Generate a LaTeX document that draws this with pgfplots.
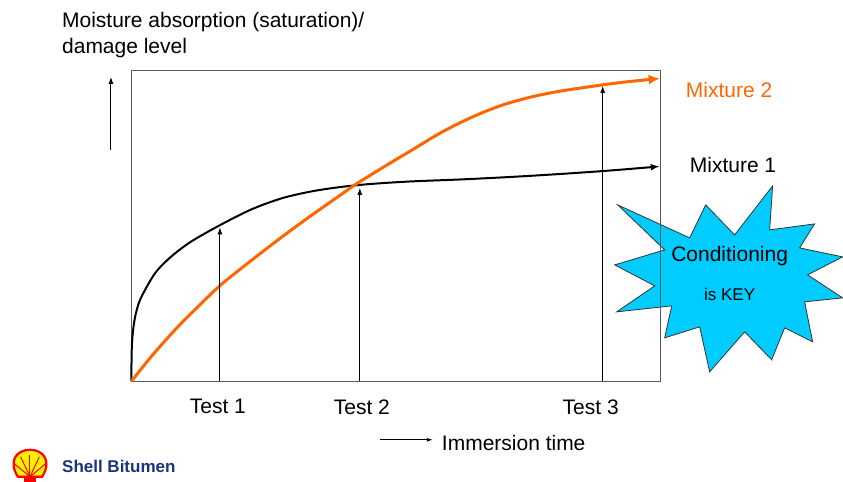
\documentclass[border=0pt]{standalone}
\usepackage{pgfplots}
\pgfplotsset{compat=1.18}
\usetikzlibrary{arrows.meta}
\usepackage{fontspec}
\setmainfont{Liberation Sans}
\definecolor{mixorange}{RGB}{255,102,0}
\definecolor{starblue}{RGB}{0,204,255}
\definecolor{shellblue}{RGB}{28,52,120}
\definecolor{framegray}{RGB}{90,90,90}
\begin{document}
\fontsize{21}{24}\selectfont
\begin{tikzpicture}
% page frame in pixel units (y down)
\begin{scope}[x=1pt,y=-1pt]
\path (0,0) rectangle (843,482);
% starburst (behind the axis frame)
\filldraw[fill=starblue,draw=black!80,line width=0.8pt]
  (618,205) -- (690,238) -- (706,205) -- (735,235) -- (773,186) -- (770,230)
  -- (815,224) -- (800,248) -- (843,257) -- (808,275) -- (843,298) -- (805,302)
  -- (813,342) -- (785,328) -- (772,360) -- (745,332) -- (710,372) -- (700,327)
  -- (665,338) -- (672,306) -- (617,312) -- (655,286) -- (615,265) -- (665,250) -- cycle;
\end{scope}

\begin{axis}[
    at={(131.5pt,-381.5pt)}, anchor=south west,
    scale only axis,
    width=529pt, height=311pt,
    xmin=0, xmax=529, ymin=0, ymax=311,
    xtick=\empty, ytick=\empty,
    axis line style={framegray,line width=1.2pt},
    clip=false,
]
% Mixture 1
\addplot[black,line width=2pt,smooth,-{Latex[length=9pt,width=7pt]}] coordinates {
    (0,0) (0.1,23) (0.5,37) (1,44.5) (2,54) (4,66) (8,80) (15,94) (25,110)
    (40,125) (60,140) (90,157) (120,172) (150,183) (180,190) (210,194.5)
    (240,197.5) (280,200) (330,202) (380,204.5) (430,207.5) (480,211) (528.5,215)
};
% Mixture 2
\addplot[mixorange,line width=3pt,smooth,-{Latex[length=11pt,width=10pt]}] coordinates {
    (0,0) (20,25) (45,53) (70,78) (90,97) (120,121) (150,144) (180,166)
    (210,187) (223.5,196.5) (250,213) (280,231) (310,249) (340,264)
    (370,276) (400,284.5) (430,290.5) (460,295) (490,299) (528.5,303)
};
% test arrows
\draw[black,line width=0.9pt,-{Latex[length=7pt,width=5pt]}] (axis cs:88.5,0) -- (axis cs:88.5,154);
\draw[black,line width=0.9pt,-{Latex[length=7pt,width=5pt]}] (axis cs:228.5,0) -- (axis cs:228.5,193.5);
\draw[black,line width=0.9pt,-{Latex[length=7pt,width=5pt]}] (axis cs:471.5,0) -- (axis cs:471.5,295.5);
\end{axis}

\begin{scope}[x=1pt,y=-1pt]
% y label and arrow
\node[anchor=west,inner sep=0pt] at (62,22) {Moisture absorption (saturation)/};
\node[anchor=west,inner sep=0pt] at (62,48) {damage level};
\draw[black,line width=0.9pt,-{Latex[length=7pt,width=5pt]}] (111,150) -- (111,77);
% test labels
\node at (218,407) {Test 1};
\node at (362,407) {Test 2};
\node at (591,407) {Test 3};
% x label and arrow
\draw[black,line width=0.9pt,-{Latex[length=6pt,width=4pt]}] (380,440) -- (433,440);
\node[anchor=west,inner sep=0pt] at (442,443) {Immersion time};
% series labels
\node[anchor=west,inner sep=0pt,text=mixorange] at (686,90) {Mixture 2};
\node[anchor=west,inner sep=0pt] at (690,165) {Mixture 1};
% starburst text
\node at (730,256) {Conditioning};
\node[font=\fontsize{17}{20}\selectfont] at (730,295) {is KEY};
% Shell logo
\filldraw[fill=yellow,draw=red,line width=2.2pt]
  (18,477) .. controls (8,462) and (16,450) .. (30,450)
  .. controls (44,450) and (52,462) .. (42,477) -- cycle;
\foreach \a in {-50,-25,0,25,50}{
  \draw[red,line width=1pt] (30,477) -- ++({90+\a}:-22);
}
\fill[red] (24,476) rectangle (36,482);
\node[anchor=west,inner sep=0pt,text=shellblue,font=\fontsize{17}{20}\selectfont\bfseries] at (62,467) {Shell Bitumen};
\end{scope}
\end{tikzpicture}
\end{document}
